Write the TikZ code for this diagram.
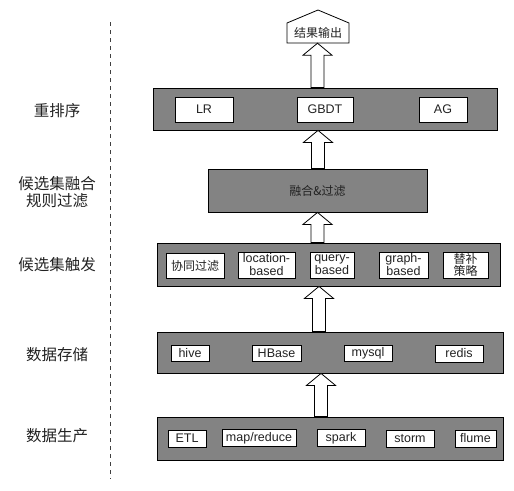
\documentclass[tikz,border=0pt]{standalone}
\usepackage{fontspec}
\setmainfont{Liberation Sans}
\newfontfamily\cjk{Noto Sans CJK SC}
\usetikzlibrary{calc}
\definecolor{layergray}{HTML}{838383}
\definecolor{txt}{HTML}{222222}
\tikzset{
  layer/.style={draw=black, line width=0.8pt, fill=layergray, inner sep=0pt},
  item/.style={draw=black, line width=0.7pt, fill=white, inner sep=0pt, align=center,
    font=\fontsize{12.5}{13}\selectfont, text=txt},
  side/.style={align=center, font=\cjk\fontsize{15.5}{16.5}\selectfont, text=txt},
  blockarrow/.style={draw=black, line width=0.8pt, fill=white, line join=miter},
}
\newcommand\uparrowblk[3]{%
  \draw[blockarrow] let \p1=(#1.north), \p2=(#2.south) in
    (#3pt-6.5pt,\y1) -- (#3pt-6.5pt,\y2-12pt) -- (#3pt-14.5pt,\y2-12pt) -- (#3pt,\y2)
    -- (#3pt+14.5pt,\y2-12pt) -- (#3pt+6.5pt,\y2-12pt) -- (#3pt+6.5pt,\y1) -- cycle;}
\begin{document}
\begin{tikzpicture}[x=1pt,y=-1pt]
\useasboundingbox (0,0) rectangle (514,490);
\fill[white] (0,0) rectangle (514,490);

% dashed separator
\draw[draw=black!75, line width=1pt, dash pattern=on 4pt off 4pt] (110.5,22) -- (110.5,479);

% side labels
\node[side] (l1) at (57,111) {重排序};
\node[side] (l2) at (57,192) {候选集融合\\规则过滤};
\node[side] (l3) at (57,265) {候选集触发};
\node[side] (l4) at (57,355) {数据存储};
\node[side] (l5) at (57,436) {数据生产};

% result pentagon
\draw[line width=0.8pt, fill=white] (287,43) -- (287,23) -- (318,10) -- (349,23) -- (349,43) -- cycle;
\node[inner sep=0pt, minimum width=62pt, minimum height=20pt, font=\cjk\fontsize{12}{13}\selectfont, text=txt] (res) at (318,33) {结果输出};

% rerank layer
\node[layer, minimum width=344pt, minimum height=42pt] (rerank) at (325,109) {};
\node[item, minimum width=58pt, minimum height=25pt] (lr) at (204,109.5) {LR};
\node[item, minimum width=56pt, minimum height=25pt] (gbdt) at (325,109.5) {GBDT};
\node[item, minimum width=48pt, minimum height=25pt] (ag) at (443,109.5) {AG};

% merge layer
\node[layer, minimum width=219pt, minimum height=43pt, font=\cjk\fontsize{12}{13}\selectfont, text=txt] (merge) at (317.5,190.5) {融合\&过滤};

% trigger layer
\node[layer, minimum width=343pt, minimum height=43pt] (trig) at (328.5,264.5) {};
\node[item, minimum width=58pt, minimum height=25pt, font=\cjk\fontsize{12}{13}\selectfont] (cf) at (195,265.5) {协同过滤};
\node[item, minimum width=57pt, minimum height=26pt] (loc) at (266.5,265) {location-\\based};
\node[item, minimum width=44pt, minimum height=26pt] (qry) at (332,265) {query-\\based};
\node[item, minimum width=49pt, minimum height=26pt] (grp) at (403.5,265) {graph-\\based};
\node[item, minimum width=45pt, minimum height=26pt, font=\cjk\fontsize{12}{12}\selectfont] (alt) at (465.5,265) {替补\\策略};

% storage layer
\node[layer, minimum width=346pt, minimum height=41pt] (store) at (330,352.5) {};
\node[item, minimum width=38pt, minimum height=16pt] (hive) at (190,353) {hive};
\node[item, minimum width=49pt, minimum height=16pt] (hbase) at (276.5,353) {HBase};
\node[item, minimum width=48pt, minimum height=16pt] (mysql) at (368,353) {mysql};
\node[item, minimum width=48pt, minimum height=17pt] (redis) at (459,353.5) {redis};

% production layer
\node[layer, minimum width=346pt, minimum height=43pt] (prod) at (330,438.5) {};
\node[item, minimum width=38pt, minimum height=17pt] (etl) at (187,438.5) {ETL};
\node[item, minimum width=74pt, minimum height=17pt] (mr) at (259,438) {map/reduce};
\node[item, minimum width=48pt, minimum height=17pt] (spark) at (341,438) {spark};
\node[item, minimum width=48pt, minimum height=17pt] (storm) at (410,438.5) {storm};
\node[item, minimum width=41pt, minimum height=17pt] (flume) at (475.5,438.5) {flume};

% block arrows
\uparrowblk{prod}{store}{321}
\uparrowblk{store}{trig}{319}
\uparrowblk{trig}{merge}{317.5}
\uparrowblk{merge}{rerank}{318}
\uparrowblk{rerank}{res}{317.5}
\end{tikzpicture}
\end{document}
